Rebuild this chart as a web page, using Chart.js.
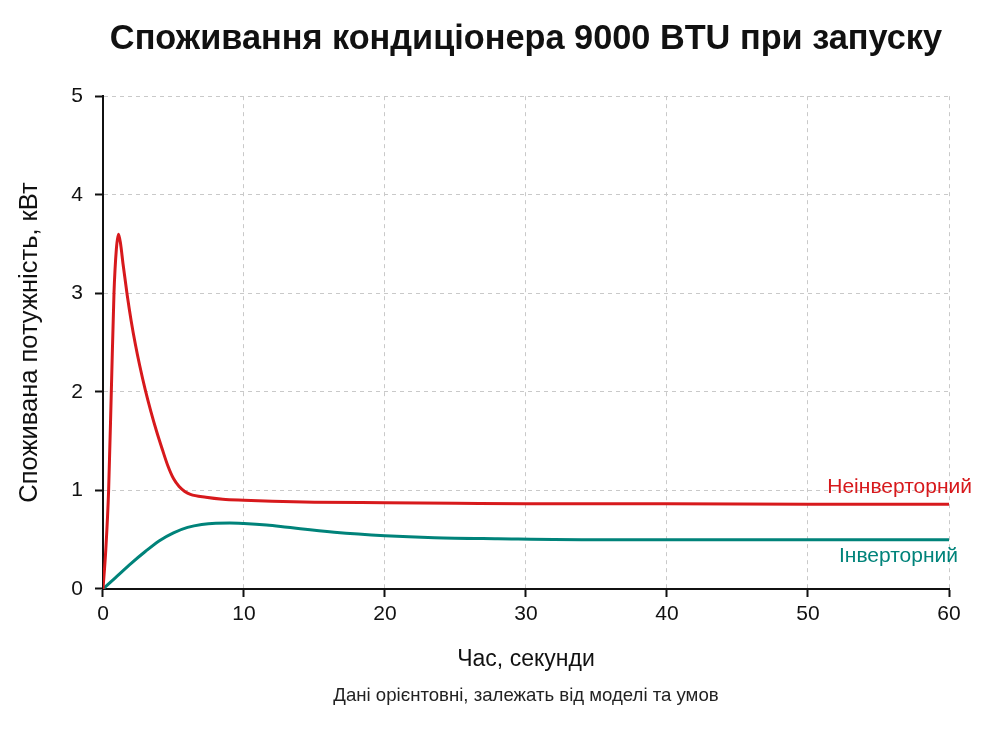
<!DOCTYPE html>
<html lang="uk">
<head>
<meta charset="utf-8">
<title>Споживання кондиціонера 9000 BTU при запуску</title>
<script src="https://cdn.jsdelivr.net/npm/chart.js@4.4.1/dist/chart.umd.min.js"></script>
<style>
  html, body { margin: 0; padding: 0; background: #fff; }
  #wrap { width: 1000px; height: 730px; position: relative; }
</style>
</head>
<body>
<div id="wrap"><canvas id="startChart"></canvas></div>
<script>
// час, секунди — неінверторний кондиціонер
const timeNonInv = [0, 0.2, 0.4, 0.6, 0.78, 0.95, 1.1, 1.25, 1.42, 1.72, 2.0, 2.3, 2.6, 3.0, 3.4, 3.8, 4.2, 4.6, 5.0, 5.4, 5.8, 6.2, 7.3, 8.5, 10, 12, 15, 20, 25, 30, 40, 50, 60];
const powerNonInv = [0, 0.4, 1.0, 2.05, 3.0, 3.45, 3.6, 3.5, 3.3, 2.98, 2.72, 2.48, 2.27, 2.02, 1.8, 1.6, 1.42, 1.25, 1.12, 1.04, 0.99, 0.96, 0.93, 0.91, 0.9, 0.89, 0.88, 0.875, 0.87, 0.865, 0.865, 0.86, 0.86];
// інверторний кондиціонер
const timeInv = [0, 1, 2, 3, 4, 5, 6, 7, 8, 9, 10, 11.6, 12.6, 14, 16.4, 20, 23.5, 28, 35, 45, 60];
const powerInv = [0, 0.13, 0.26, 0.38, 0.49, 0.57, 0.625, 0.655, 0.668, 0.67, 0.665, 0.65, 0.635, 0.61, 0.575, 0.54, 0.52, 0.51, 0.5, 0.5, 0.5];

const seriesNames = ['Неінверторний', 'Інверторний'];
const seriesColors = ['#d7191c', '#00837a'];
const xTicks = [0, 10, 20, 30, 40, 50, 60];
const yTicks = [0, 1, 2, 3, 4, 5];

const FONT = "'Liberation Sans', Arial, sans-serif";

const toPoints = (xs, ys) => xs.map((x, i) => ({ x, y: ys[i] }));

// підписи серій праворуч від кінця ліній
const endLabels = {
  id: 'endLabels',
  afterDatasetsDraw(chart) {
    const { ctx, scales: { x, y } } = chart;
    const offsets = [[23, -17], [9, 17]];
    ctx.save();
    ctx.font = `21px ${FONT}`;
    ctx.textAlign = 'right';
    ctx.textBaseline = 'middle';
    chart.data.datasets.forEach((ds, i) => {
      const last = ds.data[ds.data.length - 1];
      ctx.fillStyle = seriesColors[i];
      ctx.fillText(seriesNames[i], x.getPixelForValue(last.x) + offsets[i][0], y.getPixelForValue(last.y) + offsets[i][1]);
    });
    ctx.restore();
  },
};

// сітка пунктиром, вісь 0 не дублюємо
const gridOpts = {
  color: (c) => (c.tick && c.tick.value === 0 ? 'rgba(0,0,0,0)' : '#c9c9c9'),
  lineWidth: 1,
  tickColor: '#111',
  tickWidth: 2,
  tickLength: 8,
  drawTicks: true,
};
const borderOpts = { display: true, color: '#111', width: 2, dash: [4, 4] };

const config = {
  type: 'line',
  data: {
    datasets: [
      {
        label: seriesNames[0],
        data: toPoints(timeNonInv, powerNonInv),
        borderColor: seriesColors[0],
        borderWidth: 3,
        pointRadius: 0,
        cubicInterpolationMode: 'monotone',
      },
      {
        label: seriesNames[1],
        data: toPoints(timeInv, powerInv),
        borderColor: seriesColors[1],
        borderWidth: 3,
        pointRadius: 0,
        cubicInterpolationMode: 'monotone',
      },
    ],
  },
  options: {
    responsive: true,
    maintainAspectRatio: false,
    animation: false,
    layout: { padding: { left: 0, right: 51, top: 0, bottom: 0 } },
    plugins: {
      legend: { display: false },
      tooltip: { enabled: false },
      title: {
        display: true,
        fullSize: false,
        text: 'Споживання кондиціонера 9000 BTU при запуску',
        color: '#111',
        font: { family: FONT, size: 34.3, weight: 'bold' },
        padding: { top: 19, bottom: 36 },
      },
      subtitle: {
        display: true,
        fullSize: false,
        position: 'bottom',
        text: 'Дані орієнтовні, залежать від моделі та умов',
        color: '#222',
        font: { family: FONT, size: 18.6 },
        padding: { top: 8, bottom: 22.5 },
      },
    },
    scales: {
      x: {
        type: 'linear',
        min: 0,
        max: 60,
        afterBuildTicks: (s) => { s.ticks = xTicks.map((v) => ({ value: v })); },
        border: { ...borderOpts },
        grid: { ...gridOpts },
        ticks: { color: '#111', font: { family: FONT, size: 21 }, padding: 5, maxRotation: 0 },
        title: {
          display: true,
          text: 'Час, секунди',
          color: '#111',
          font: { family: FONT, size: 23 },
          padding: { top: 13.4, bottom: 4 },
        },
      },
      y: {
        type: 'linear',
        min: 0,
        max: 5,
        afterBuildTicks: (s) => { s.ticks = yTicks.map((v) => ({ value: v })); },
        border: { ...borderOpts },
        grid: { ...gridOpts },
        ticks: { color: '#111', font: { family: FONT, size: 21 }, padding: 12 },
        title: {
          display: true,
          text: 'Споживана потужність, кВт',
          color: '#111',
          font: { family: FONT, size: 25.5 },
          padding: { top: 14.7, bottom: 14 },
        },
      },
    },
  },
  plugins: [endLabels],
};

const chart = new Chart(document.getElementById('startChart'), config);
</script>
</body>
</html>
